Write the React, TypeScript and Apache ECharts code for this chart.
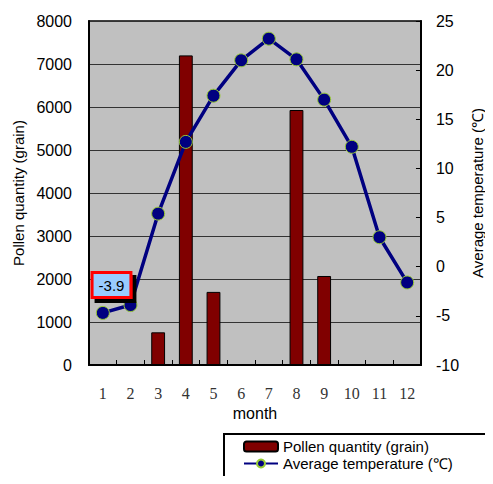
import React, { useEffect, useRef } from "react";
import * as echarts from "echarts";

const months = ["1", "2", "3", "4", "5", "6", "7", "8", "9", "10", "11", "12"];
const pollen: (number | null)[] = [null, null, 760, 7200, 1700, null, null, 5930, 2070, null, null, null];
const temperature = [-4.7, -3.9, 5.4, 12.7, 17.4, 21.0, 23.2, 21.1, 17.0, 12.2, 3.0, -1.6];
const labelledIndex = 1;

const SANS = "Liberation Sans, Arial, sans-serif";
const SERIF = "Liberation Serif, serif";

export default function App() {
  const ref = useRef<HTMLDivElement>(null);
  useEffect(() => {
    if (!ref.current) return;
    const chart = echarts.init(ref.current, undefined, { renderer: "svg" });
    chart.setOption({
      animation: false,
      grid: {
        left: 89,
        right: 51,
        top: 21,
        bottom: 119,
        show: true,
        backgroundColor: "#c0c0c0",
        borderColor: "#000",
        borderWidth: 1.5,
      },
      graphic: [
        {
          type: "rect",
          shape: { x: 224, y: 434, width: 263, height: 60 },
          style: { fill: "#fff", stroke: "#000", lineWidth: 2 },
          z: 0,
        },
      ],
      legend: {
        orient: "vertical",
        left: 223,
        top: 433,
        padding: [6, 20, 0, 20],
        itemGap: 2,
        itemWidth: 34,
        itemHeight: 10,
        textStyle: { fontFamily: SANS, fontSize: 15, color: "#000" },
        data: ["Pollen quantity (grain)", "Average temperature (℃)"],
        z: 5,
      },
      xAxis: {
        type: "category",
        data: months,
        boundaryGap: true,
        name: "month",
        nameLocation: "middle",
        nameGap: 40,
        nameTextStyle: { fontFamily: SANS, fontSize: 16, color: "#000" },
        axisLine: { show: true, lineStyle: { color: "#000", width: 2 } },
        axisTick: { show: true, inside: true, length: 5, interval: 0, lineStyle: { color: "#000" } },
        axisLabel: { fontFamily: SERIF, fontSize: 16, color: "#333", margin: 20 },
      },
      yAxis: [
        {
          type: "value",
          min: 0,
          max: 8000,
          interval: 1000,
          name: "Pollen quantity (grain)",
          nameLocation: "middle",
          nameRotate: 90,
          nameGap: 60,
          nameTextStyle: { fontFamily: SANS, fontSize: 15, color: "#000" },
          axisLine: { show: true, lineStyle: { color: "#000", width: 2 } },
          axisTick: { show: false },
          axisLabel: {
            fontFamily: SANS,
            fontSize: 16,
            color: "#000",
            margin: 17,
            formatter: (v: number) => String(v),
          },
          splitLine: { show: true, lineStyle: { color: "#333", width: 1 } },
        },
        {
          type: "value",
          min: -10,
          max: 25,
          interval: 5,
          position: "right",
          name: "Average temperature (℃)",
          nameLocation: "middle",
          nameRotate: 90,
          nameGap: 45,
          nameTextStyle: { fontFamily: SANS, fontSize: 15, color: "#000" },
          axisLine: { show: true, lineStyle: { color: "#000", width: 2 } },
          axisTick: { show: true, inside: true, length: 5, lineStyle: { color: "#000" } },
          axisLabel: {
            fontFamily: SANS,
            fontSize: 16,
            color: "#000",
            margin: 15,
            formatter: (v: number) => String(v),
          },
          splitLine: { show: false },
        },
      ],
      series: [
        {
          name: "Pollen quantity (grain)",
          type: "bar",
          yAxisIndex: 0,
          data: pollen,
          barWidth: "50%",
          itemStyle: { color: "#800000", borderColor: "#000", borderWidth: 1 },
        },
        {
          name: "Average temperature (℃)",
          type: "line",
          yAxisIndex: 1,
          data: temperature.map((v, i) =>
            i === labelledIndex
              ? {
                  value: v,
                  label: {
                    show: true,
                    position: "inside",
                    offset: [-19, -20],
                    formatter: String(v),
                    fontFamily: SANS,
                    fontSize: 15,
                    color: "#000",
                    backgroundColor: "#99ccff",
                    borderColor: "#ff0000",
                    borderWidth: 3,
                    padding: [4, 5, 3, 5],
                    shadowColor: "#000",
                    shadowOffsetX: 4,
                    shadowOffsetY: 4,
                    shadowBlur: 0,
                  },
                }
              : v
          ),
          symbol: "circle",
          symbolSize: 13,
          lineStyle: { color: "#000080", width: 3.5 },
          itemStyle: { color: "#000080", borderColor: "#99cc33", borderWidth: 1 },
          z: 3,
        },
      ],
    });
    return () => chart.dispose();
  }, []);
  return <div ref={ref} style={{ width: 493, height: 484, margin: -8 }} />;
}
